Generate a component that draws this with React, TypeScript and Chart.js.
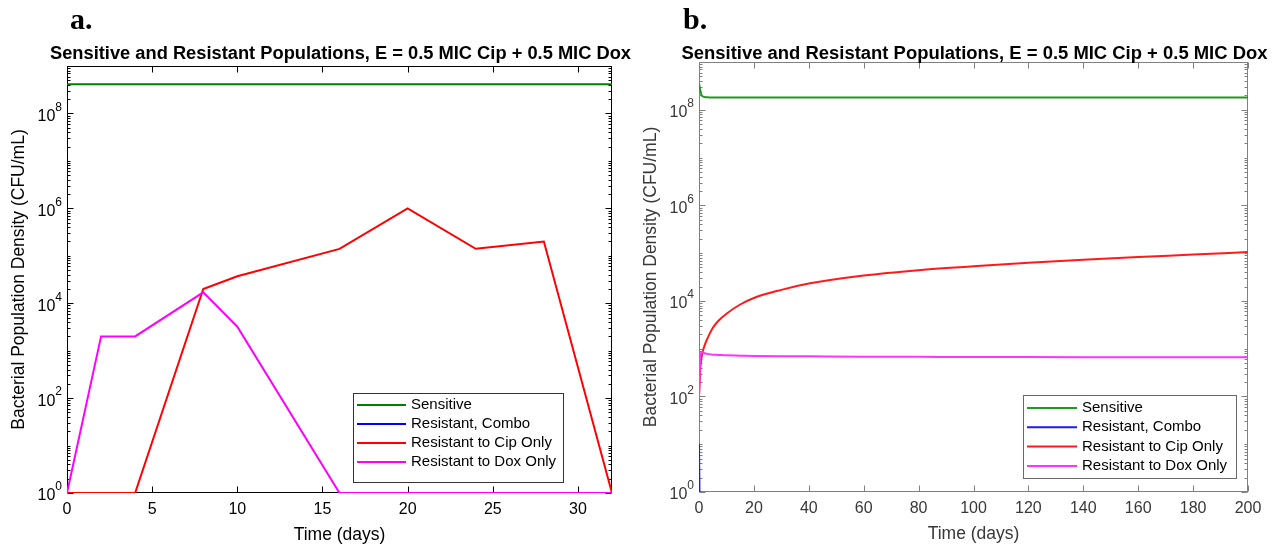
import React, { useEffect, useRef } from "react";
import { Chart, registerables } from "chart.js";

Chart.register(...registerables);

// ---------- Panel a (0..32 days, sampled every few days) ----------
const leftTime = [0, 2, 4, 8, 10, 16, 20, 24, 28, 32];
const leftSensitive = [4.1e8, 4.1e8, 4.1e8, 4.1e8, 4.1e8, 4.1e8, 4.1e8, 4.1e8, 4.1e8, 4.1e8];
const leftCombo = [0, 0, 0, 0, 0, 0, 0, 0, 0, 0];
const leftCip = [1, 1, 1, 2.0e4, 3.7e4, 1.4e5, 1.0e6, 1.4e5, 2.0e5, 1];
const leftDox = [1, 2000, 2000, 1.7e4, 3200, 1, 1, 1, 1, 1];
const leftXTicks = [0, 5, 10, 15, 20, 25, 30];

// ---------- Panel b (0..200 days, continuous model) ----------
const rightTime = [0, 0.5, 1, 2, 3, 5, 7, 10, 15, 20, 30, 40, 60, 80, 100, 120, 140, 160, 180, 200];
const rightSensitive = [3.5e8, 2.5e8, 2.0e8, 1.85e8, 1.82e8, 1.8e8, 1.8e8, 1.8e8, 1.8e8, 1.8e8, 1.8e8, 1.8e8, 1.8e8, 1.8e8, 1.8e8, 1.8e8, 1.8e8, 1.8e8, 1.8e8, 1.8e8];
const rightCombo = [10, 0.01, 0, 0, 0, 0, 0, 0, 0, 0, 0, 0, 0, 0, 0, 0, 0, 0, 0, 0];
const rightCip = [100, 400, 700, 1150, 1600, 2700, 3800, 5400, 8400, 11500, 17000, 23000, 34000, 44000, 53000, 63000, 73000, 83000, 93000, 105000];
const rightDox = [100, 700, 850, 800, 780, 750, 740, 725, 715, 705, 695, 690, 680, 675, 670, 668, 665, 663, 660, 658];
const rightXTicks = [0, 20, 40, 60, 80, 100, 120, 140, 160, 180, 200];

const yLabelExps = [0, 2, 4, 6, 8];
const seriesNames = ["Sensitive", "Resistant, Combo", "Resistant to Cip Only", "Resistant to Dox Only"];
const titleText = "Sensitive and Resistant Populations, E = 0.5 MIC Cip + 0.5 MIC Dox";
const yTitle = "Bacterial Population Density (CFU/mL)";
const xTitle = "Time (days)";

type Panel = {
  id: string;
  letter: string;
  left: number;
  width: number;
  pad: { left: number; right: number; top: number; bottom: number };
  xMax: number;
  xTicks: number[];
  time: number[];
  values: number[][];
  colors: string[];
  smooth: boolean;
  axisColor: string;
  textColor: string;
  legendBorder: string;
  legend: { x: number; y: number; w: number; h: number; row0: number; rowGap: number; lineLen: number; textGap: number };
  letterX: number;
  titleW: number;
};

const SANS = "'Liberation Sans', Arial, Helvetica, sans-serif";

const panels: Panel[] = [
  {
    id: "a",
    letter: "a.",
    left: 0,
    width: 640,
    pad: { left: 67, right: 28, top: 66, bottom: 56 },
    xMax: 32,
    xTicks: leftXTicks,
    time: leftTime,
    values: [leftSensitive, leftCombo, leftCip, leftDox],
    colors: ["#007f00", "#0000ff", "#ff0000", "#ff00ff"],
    smooth: false,
    axisColor: "#000000",
    textColor: "#000000",
    legendBorder: "#333333",
    legend: { x: 353, y: 393, w: 210, h: 89, row0: 12, rowGap: 19, lineLen: 49, textGap: 5 },
    letterX: 70,
    titleW: 581,
  },
  {
    id: "b",
    letter: "b.",
    left: 640,
    width: 638,
    pad: { left: 59, right: 30, top: 62, bottom: 57 },
    xMax: 200,
    xTicks: rightXTicks,
    time: rightTime,
    values: [rightSensitive, rightCombo, rightCip, rightDox],
    colors: ["#1f9a1f", "#1a1aff", "#ff1a1a", "#ff33ff"],
    smooth: true,
    axisColor: "#808080",
    textColor: "#383838",
    legendBorder: "#6a6a6a",
    legend: { x: 383, y: 395, w: 213, h: 83, row0: 13, rowGap: 19.3, lineLen: 50, textGap: 5 },
    letterX: 43,
    titleW: 586,
  },
];

function decorPlugin(p: Panel) {
  return {
    id: "decor" + p.id,
    beforeDatasetsDraw(chart: any) {
      const { ctx, chartArea: a, scales } = chart;
      const xs = scales.x;
      const ys = scales.y;
      ctx.save();
      ctx.strokeStyle = p.axisColor;
      ctx.lineWidth = 1;
      const L = Math.round(a.left) + 0.5;
      const R = Math.round(a.right) - 0.5;
      const T = Math.round(a.top) + 0.5;
      const B = Math.round(a.bottom) - 0.5;
      ctx.strokeRect(L, T, R - L, B - T);
      ctx.beginPath();
      for (const t of p.xTicks) {
        const x = Math.round(xs.getPixelForValue(t)) + 0.5;
        ctx.moveTo(x, B);
        ctx.lineTo(x, B - 6);
        ctx.moveTo(x, T);
        ctx.lineTo(x, T + 6);
      }
      for (let d = 0; d < 9; d++) {
        for (let m = 1; m < 10; m++) {
          const v = m * Math.pow(10, d);
          const y = Math.round(ys.getPixelForValue(v)) + 0.5;
          const major = m === 1 && d % 2 === 0;
          const len = major ? 6 : 3;
          ctx.moveTo(L, y);
          ctx.lineTo(L + len, y);
          ctx.moveTo(R, y);
          ctx.lineTo(R - len, y);
        }
      }
      ctx.stroke();
      ctx.restore();
    },
    afterDatasetsDraw(chart: any) {
      const { ctx, chartArea: a, scales } = chart;
      const xs = scales.x;
      const ys = scales.y;
      ctx.save();
      ctx.fillStyle = p.textColor;

      // x tick labels
      ctx.font = `16px ${SANS}`;
      ctx.textAlign = "center";
      ctx.textBaseline = "middle";
      for (const t of p.xTicks) {
        ctx.fillText(String(t), xs.getPixelForValue(t), a.bottom + 17);
      }
      // y tick labels with superscript exponents
      for (const e of yLabelExps) {
        const y = ys.getPixelForValue(Math.pow(10, e));
        ctx.font = `16px ${SANS}`;
        const wb = ctx.measureText("10").width;
        ctx.font = `12px ${SANS}`;
        const we = ctx.measureText(String(e)).width;
        const xr = a.left - 5;
        ctx.textAlign = "left";
        ctx.font = `16px ${SANS}`;
        ctx.fillText("10", xr - we - wb, y + 3);
        ctx.font = `12px ${SANS}`;
        ctx.fillText(String(e), xr - we, y - 6);
      }
      // axis titles
      ctx.font = `17.5px ${SANS}`;
      ctx.textAlign = "center";
      ctx.fillText(xTitle, (a.left + a.right) / 2, a.bottom + 42);
      ctx.save();
      ctx.translate(a.left - 48, (a.top + a.bottom) / 2);
      ctx.rotate(-Math.PI / 2);
      ctx.fillText(yTitle, 0, 0);
      ctx.restore();

      // title (bold, narrow like MATLAB Helvetica)
      ctx.fillStyle = "#000";
      ctx.font = `bold 18px ${SANS}`;
      ctx.textBaseline = "alphabetic";
      const tw = ctx.measureText(titleText).width;
      const sx = p.titleW / tw;
      ctx.save();
      ctx.translate((a.left + a.right) / 2 + 1, 59);
      ctx.scale(sx, 1);
      ctx.textAlign = "center";
      ctx.fillText(titleText, 0, 0);
      ctx.restore();

      // panel letter
      ctx.font = `bold 30px 'Liberation Serif', 'Times New Roman', serif`;
      ctx.textAlign = "left";
      ctx.fillText(p.letter, p.letterX, 29);

      // legend
      const lg = p.legend;
      ctx.fillStyle = "#fff";
      ctx.fillRect(lg.x, lg.y, lg.w, lg.h);
      ctx.strokeStyle = p.legendBorder;
      ctx.lineWidth = 1;
      ctx.strokeRect(lg.x + 0.5, lg.y + 0.5, lg.w, lg.h);
      ctx.font = `15px ${SANS}`;
      ctx.textBaseline = "middle";
      seriesNames.forEach((name, i) => {
        const yy = lg.y + lg.row0 + i * lg.rowGap;
        ctx.strokeStyle = p.colors[i];
        ctx.lineWidth = 2;
        ctx.beginPath();
        ctx.moveTo(lg.x + 4, yy);
        ctx.lineTo(lg.x + 4 + lg.lineLen, yy);
        ctx.stroke();
        ctx.fillStyle = "#000";
        ctx.fillText(name, lg.x + 4 + lg.lineLen + lg.textGap, yy);
      });
      ctx.restore();
    },
  };
}

function PanelChart({ p }: { p: Panel }) {
  const ref = useRef<HTMLCanvasElement | null>(null);
  useEffect(() => {
    if (!ref.current) return;
    const order = [4, 3, 2, 1];
    const datasets = p.values.map((vals, i) => ({
      label: seriesNames[i],
      data: p.time.map((t, k) => ({ x: t, y: vals[k] > 0 ? vals[k] : null })),
      borderColor: p.colors[i],
      backgroundColor: p.colors[i],
      borderWidth: 2,
      pointRadius: 0,
      fill: false,
      spanGaps: false,
      cubicInterpolationMode: p.smooth ? ("monotone" as const) : ("default" as const),
      tension: 0,
      order: order[i],
    }));
    const chart = new Chart(ref.current, {
      type: "line",
      data: { datasets },
      options: {
        responsive: false,
        animation: false,
        devicePixelRatio: 1,
        events: [],
        layout: { padding: p.pad },
        plugins: { legend: { display: false }, tooltip: { enabled: false }, title: { display: false } },
        scales: {
          x: { type: "linear", display: false, min: 0, max: p.xMax },
          y: { type: "logarithmic", display: false, min: 1, max: 1e9 },
        },
      },
      plugins: [decorPlugin(p)],
    });
    return () => chart.destroy();
  }, [p]);
  return (
    <canvas
      ref={ref}
      width={p.width}
      height={549}
      style={{ position: "absolute", left: p.left, top: 0, width: p.width, height: 549 }}
    />
  );
}

export default function App() {
  return (
    <div style={{ position: "absolute", left: 0, top: 0, width: 1278, height: 549, background: "#fff", overflow: "hidden" }}>
      {panels.map((p) => (
        <PanelChart key={p.id} p={p} />
      ))}
    </div>
  );
}
